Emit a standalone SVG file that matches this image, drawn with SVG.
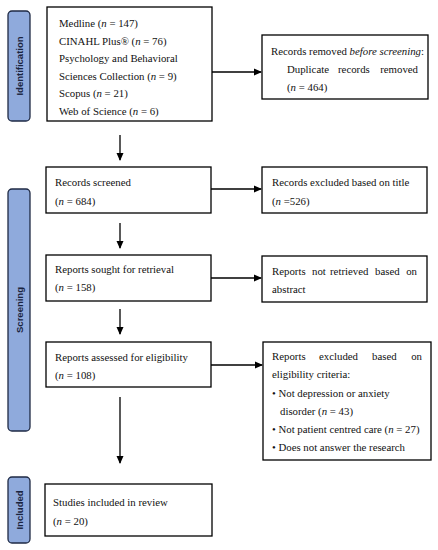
<svg xmlns="http://www.w3.org/2000/svg" width="438" height="550" viewBox="0 0 438 550">
<defs>
<marker id="ah" markerWidth="8" markerHeight="8" refX="7" refY="4" orient="auto" markerUnits="userSpaceOnUse">
<path d="M0,0.5 L8,4 L0,7.5 Z" fill="#000"/>
</marker>
<style>
.box{fill:#fff;stroke:#000;stroke-width:1.3}
.bar{fill:#8FAADC;stroke:#1F2A44;stroke-width:1.3}
.t{font-family:"Liberation Serif","DejaVu Serif",serif;font-size:10.8px;fill:#111}
.lab{font-family:"Liberation Sans","DejaVu Sans",sans-serif;font-size:9.5px;font-weight:bold;fill:#1a2440;text-anchor:middle}
.c{stroke:#000;stroke-width:1.3;fill:none;marker-end:url(#ah)}
</style>
</defs>
<rect width="438" height="550" fill="#fff"/>
<g id="phase-identification">
<rect class="bar" x="8" y="11" width="22" height="110" rx="4"/>
<text class="lab" transform="translate(22.5,66) rotate(-90)">Identification</text>
</g>
<g id="phase-screening">
<rect class="bar" x="8" y="189" width="22" height="242" rx="4"/>
<text class="lab" transform="translate(22.5,310) rotate(-90)">Screening</text>
</g>
<g id="phase-included">
<rect class="bar" x="8" y="477" width="22" height="66" rx="4"/>
<text class="lab" transform="translate(22.5,510) rotate(-90)">Included</text>
</g>
<g id="connectors">
<line class="c" x1="212" y1="72" x2="261" y2="72"/>
<line class="c" x1="120" y1="135" x2="120" y2="160"/>
<line class="c" x1="211" y1="189" x2="261" y2="189"/>
<line class="c" x1="120" y1="223" x2="120" y2="248"/>
<line class="c" x1="211" y1="278" x2="261" y2="278"/>
<line class="c" x1="120" y1="309" x2="120" y2="334"/>
<line class="c" x1="211" y1="365" x2="262" y2="365"/>
<line class="c" x1="120" y1="397" x2="120" y2="463"/>
</g>
<g id="n-sources">
<rect class="box" x="47" y="7" width="165" height="114"/>
<text class="t" x="59" y="26.5">Medline (<tspan font-style="italic">n</tspan> = 147)</text>
<text class="t" x="59" y="44.5">CINAHL Plus® (<tspan font-style="italic">n</tspan> = 76)</text>
<text class="t" x="59" y="62">Psychology and Behavioral</text>
<text class="t" x="59" y="79.5">Sciences Collection (<tspan font-style="italic">n</tspan> = 9)</text>
<text class="t" x="59" y="97">Scopus (<tspan font-style="italic">n</tspan> = 21)</text>
<text class="t" x="59" y="114.5">Web of Science (<tspan font-style="italic">n</tspan> = 6)</text>
</g>
<g id="n-removed">
<rect class="box" x="262" y="35" width="166" height="64"/>
<text class="t" x="271" y="54.5">Records removed <tspan font-style="italic">before screening</tspan>:</text>
<text class="t" x="287" y="72.5">Duplicate</text>
<text class="t" x="338" y="72.5">records</text>
<text class="t" x="418" y="72.5" text-anchor="end">removed</text>
<text class="t" x="287" y="91">(<tspan font-style="italic">n</tspan> = 464)</text>
</g>
<g id="n-screened">
<rect class="box" x="46" y="167" width="165" height="46"/>
<text class="t" x="55" y="186">Records screened</text>
<text class="t" x="55" y="205">(<tspan font-style="italic">n</tspan> = 684)</text>
</g>
<g id="n-excluded-title">
<rect class="box" x="262" y="167" width="165" height="46"/>
<text class="t" x="272" y="186">Records excluded based on title</text>
<text class="t" x="272" y="205">(<tspan font-style="italic">n</tspan> =526)</text>
</g>
<g id="n-sought">
<rect class="box" x="46" y="255" width="165" height="46"/>
<text class="t" x="55" y="273">Reports sought for retrieval</text>
<text class="t" x="55" y="291">(<tspan font-style="italic">n</tspan> = 158)</text>
</g>
<g id="n-not-retrieved">
<rect class="box" x="262" y="256" width="165" height="46"/>
<text class="t" x="272" y="274.5">Reports</text>
<text class="t" x="312" y="274.5">not</text>
<text class="t" x="330" y="274.5">retrieved</text>
<text class="t" x="375" y="274.5">based</text>
<text class="t" x="417" y="274.5" text-anchor="end">on</text>
<text class="t" x="272" y="292.5">abstract</text>
</g>
<g id="n-assessed">
<rect class="box" x="46" y="342" width="165" height="45"/>
<text class="t" x="55" y="360.5">Reports assessed for eligibility</text>
<text class="t" x="55" y="378.5">(<tspan font-style="italic">n</tspan> = 108)</text>
</g>
<g id="n-excluded-elig">
<rect class="box" x="263" y="342" width="168" height="118"/>
<text class="t" x="272" y="360">Reports</text>
<text class="t" x="319" y="360">excluded</text>
<text class="t" x="372" y="360">based</text>
<text class="t" x="422" y="360" text-anchor="end">on</text>
<text class="t" x="272" y="378">eligibility criteria:</text>
<text class="t" x="272" y="396.5">• Not depression or anxiety</text>
<text class="t" x="280" y="414.5">disorder (<tspan font-style="italic">n</tspan> = 43)</text>
<text class="t" x="272" y="433">• Not patient centred care (<tspan font-style="italic">n</tspan> = 27)</text>
<text class="t" x="272" y="450.5">• Does not answer the research</text>
</g>
<g id="n-included">
<rect class="box" x="45" y="484" width="167" height="52"/>
<text class="t" x="53" y="506">Studies included in review</text>
<text class="t" x="53" y="525">(<tspan font-style="italic">n</tspan> = 20)</text>
</g>
</svg>
